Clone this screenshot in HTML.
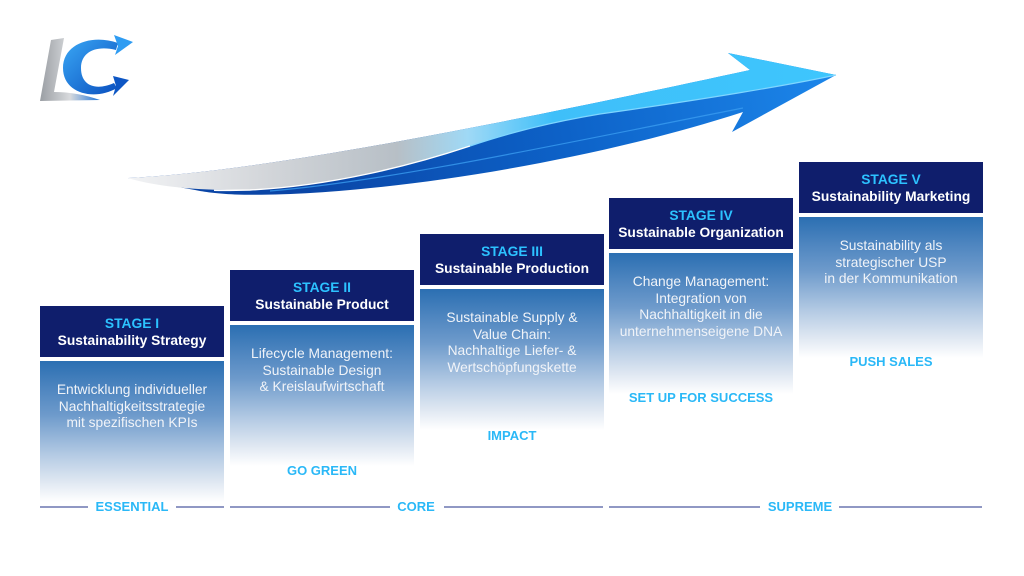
<!DOCTYPE html>
<html><head><meta charset="utf-8">
<style>
*{margin:0;padding:0;box-sizing:border-box}
html,body{width:1024px;height:576px;background:#fff;overflow:hidden;font-family:"Liberation Sans",Arial,sans-serif}
.abs{position:absolute}
.hdr{position:absolute;width:184px;height:51px;background:#0f1e6c;text-align:center}
.hdr .s{position:absolute;left:0;width:100%;top:9px;line-height:18px;font-size:13.8px;font-weight:bold;color:#2cc2ff}
.hdr .t{position:absolute;left:0;width:100%;top:26px;line-height:18px;font-size:13.8px;font-weight:bold;color:#fff}
.bd{position:absolute;width:184px;height:141px;background:linear-gradient(#2b6fb2 0%,#4f86c0 20%,#6d9acb 38%,#b5cbe4 67%,#e0e8f2 86%,#fff 100%)}
.tx{position:absolute;width:184px;text-align:center;font-size:13.8px;line-height:16.7px;color:#f0f3f8}
.tag{position:absolute;width:184px;text-align:center;font-size:13px;font-weight:bold;color:#2ab8f7;line-height:16px}
.ln{position:absolute;height:2px;top:506px;background:#9098c4}
.bl{position:absolute;top:499px;font-size:13px;font-weight:bold;color:#2ab8f7;line-height:16px;text-align:center}
</style></head><body>

<svg class="abs" style="left:0;top:0" width="1024" height="576" viewBox="0 0 1024 576">
<defs>
<linearGradient id="gBlue" gradientUnits="userSpaceOnUse" x1="300" y1="195" x2="836" y2="90">
<stop offset="0" stop-color="#0a45a6"/>
<stop offset="0.5" stop-color="#0d62c8"/>
<stop offset="1" stop-color="#1c86ea"/>
</linearGradient>
<linearGradient id="gUp" gradientUnits="userSpaceOnUse" x1="128" y1="0" x2="836" y2="0">
<stop offset="0" stop-color="#f2f3f5"/>
<stop offset="0.2" stop-color="#d2d5d9"/>
<stop offset="0.38" stop-color="#b7bfc6"/>
<stop offset="0.48" stop-color="#9fd9f6"/>
<stop offset="0.6" stop-color="#3fbff9"/>
<stop offset="1" stop-color="#3ec6fd"/>
</linearGradient>
<linearGradient id="gL" x1="0" y1="0" x2="1" y2="0">
<stop offset="0" stop-color="#9a9ea3"/>
<stop offset="0.5" stop-color="#d8dadd"/>
<stop offset="1" stop-color="#1f74d8"/>
</linearGradient>
<linearGradient id="gC" x1="0" y1="0" x2="1" y2="1">
<stop offset="0" stop-color="#3aa8f5"/>
<stop offset="1" stop-color="#0a4fbf"/>
</linearGradient>
</defs>

<!-- big arrow -->
<path d="M128,178 C250,172 450,135 750,70 L728,53 L836,75 L732,132 L743,112 C580,165 360,198 235,194.5 C215,193.5 205,192 195,190 L128,178 Z" fill="url(#gBlue)"/>
<path d="M270,191 C390,181 570,142 743,108" fill="none" stroke="#3a9cf0" stroke-width="1.2" opacity="0.8"/>
<path d="M128,178 C250,172 450,135 750,70 L728,53 L836,75 C790,85 700,100 600,114 C540,124 500,136 470,146 C410,166 330,186 250,190 C190,191 150,185 128,178 Z" fill="url(#gUp)"/>
<path d="M470,146 C410,166 330,186 250,190 C232,190.5 222,190.5 214,190.3" fill="none" stroke="#fff" stroke-width="1.4"/>
<path d="M836,75 C790,85 700,100 600,114 C540,124 500,136 470,146" fill="none" stroke="#7fd6ff" stroke-width="1.2"/>

<!-- logo -->
<path d="M51,40 L64,38 L54,92 C70,92 86,95 100,100 L40,101 Z" fill="url(#gL)"/>
<path d="M118,43 C93,34 63,43 63,68 C63,94 95,101 117,88 L114,83 C96,91 81,86 81,68 C81,52 96,45 116,50 Z" fill="url(#gC)"/>
<path d="M114,35 L133,42 L115,55 L118,46 Z" fill="#2f9cf2"/>
<path d="M113,76 L129,80 L113,96 L116,86 Z" fill="#0d56c4"/>
</svg>

<!-- Column 1 -->
<div class="hdr" style="left:40px;top:306px"><div class="s">STAGE I</div><div class="t">Sustainability Strategy</div></div>
<div class="bd" style="left:40px;top:361px"></div>
<div class="tx" style="left:40px;top:382px">Entwicklung individueller<br>Nachhaltigkeitsstrategie<br>mit spezifischen KPIs</div>

<!-- Column 2 -->
<div class="hdr" style="left:230px;top:270px"><div class="s">STAGE II</div><div class="t">Sustainable Product</div></div>
<div class="bd" style="left:230px;top:325px"></div>
<div class="tx" style="left:230px;top:346px">Lifecycle Management:<br>Sustainable Design<br>&amp; Kreislaufwirtschaft</div>
<div class="tag" style="left:230px;top:463px">GO GREEN</div>

<!-- Column 3 -->
<div class="hdr" style="left:420px;top:234px"><div class="s">STAGE III</div><div class="t">Sustainable Production</div></div>
<div class="bd" style="left:420px;top:289px"></div>
<div class="tx" style="left:420px;top:310px">Sustainable Supply &amp;<br>Value Chain:<br>Nachhaltige Liefer- &amp;<br>Wertschöpfungskette</div>
<div class="tag" style="left:420px;top:428px">IMPACT</div>

<!-- Column 4 -->
<div class="hdr" style="left:609px;top:198px"><div class="s">STAGE IV</div><div class="t">Sustainable Organization</div></div>
<div class="bd" style="left:609px;top:253px"></div>
<div class="tx" style="left:609px;top:274px">Change Management:<br>Integration von<br>Nachhaltigkeit in die<br>unternehmenseigene DNA</div>
<div class="tag" style="left:609px;top:390px">SET UP FOR SUCCESS</div>

<!-- Column 5 -->
<div class="hdr" style="left:799px;top:162px"><div class="s">STAGE V</div><div class="t">Sustainability Marketing</div></div>
<div class="bd" style="left:799px;top:217px"></div>
<div class="tx" style="left:799px;top:238px">Sustainability als<br>strategischer USP<br>in der Kommunikation</div>
<div class="tag" style="left:799px;top:354px">PUSH SALES</div>

<!-- bottom lines -->
<div class="ln" style="left:40px;width:48px"></div>
<div class="bl" style="left:40px;width:184px">ESSENTIAL</div>
<div class="ln" style="left:176px;width:48px"></div>

<div class="ln" style="left:230px;width:160px"></div>
<div class="bl" style="left:366px;width:100px">CORE</div>
<div class="ln" style="left:444px;width:159px"></div>

<div class="ln" style="left:609px;width:151px"></div>
<div class="bl" style="left:750px;width:100px">SUPREME</div>
<div class="ln" style="left:839px;width:143px"></div>

</body></html>
